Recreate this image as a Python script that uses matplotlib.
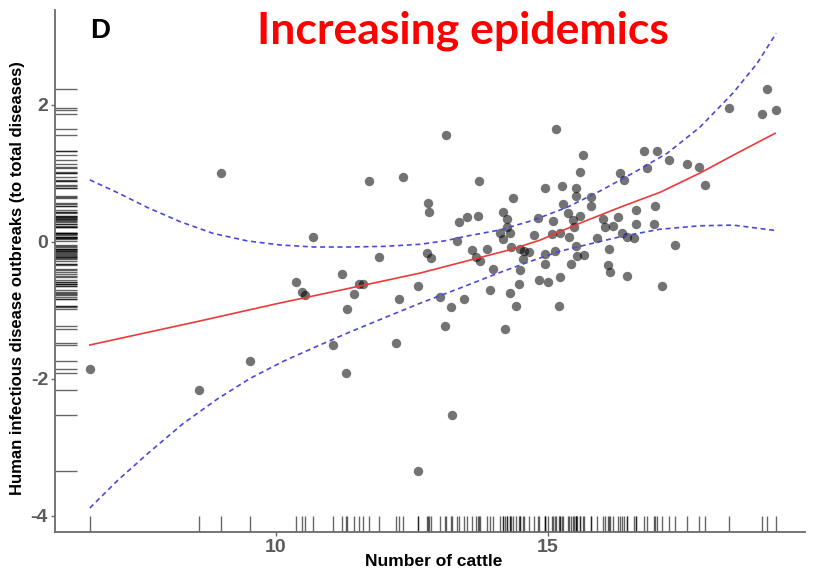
#!/usr/bin/env python3
"""Outbreak share against herd size, with fitted trend and confidence band."""

import matplotlib

matplotlib.use("Agg")
import matplotlib.pyplot as plt

plt.rcParams["axes.unicode_minus"] = False

# one entry per country
cattle = [
    6.58, 8.99, 8.58, 9.52, 10.68, 11.71, 12.33, 12.79, 12.81, 11.89,
    10.37, 10.48, 10.53, 11.21, 11.53, 11.60, 11.43, 11.30, 12.26, 12.61,
    11.05, 12.21, 11.29, 12.78, 12.85, 13.01, 13.22, 13.11, 13.46, 13.24,
    12.61, 13.93, 14.30, 14.41, 14.21, 14.47, 14.83, 15.00, 13.12, 13.73,
    13.36, 13.51, 13.71, 13.33, 14.17, 14.25, 14.25, 14.12, 14.30, 14.17,
    14.36, 13.60, 13.68, 13.75, 13.88, 13.99, 14.32, 14.48, 14.56, 14.65,
    14.54, 14.48, 15.22, 15.20, 14.94, 15.15, 15.26, 15.51, 15.51, 15.28,
    15.64, 15.59, 15.79, 15.79, 14.82, 15.09, 15.37, 15.46, 15.59, 15.48,
    14.74, 15.07, 15.22, 15.39, 15.51, 15.13, 14.94, 15.53, 15.66, 14.94,
    15.42, 16.01, 16.05, 16.19, 16.29, 15.90, 16.12, 16.36, 16.45, 16.58,
    16.62, 16.62, 16.95, 16.97, 16.10, 16.14, 16.45, 16.32, 16.40, 16.82,
    16.76, 17.00, 17.22, 17.55, 17.77, 17.89, 17.33, 17.09, 18.33, 19.02,
    18.93, 19.19,
]
outbreaks = [
    -1.86, 1.00, -2.17, -1.74, 0.07, 0.88, 0.94, 0.56, 0.43, -0.23,
    -0.59, -0.74, -0.78, -0.47, -0.62, -0.62, -0.77, -0.99, -0.84, -0.65,
    -1.51, -1.48, -1.92, -0.17, -0.24, -0.81, -0.96, -1.23, -0.84, -2.53,
    -3.35, -0.71, -0.75, -0.94, -1.28, -0.62, -0.56, -0.59, 1.55, 0.88,
    0.28, 0.36, 0.37, 0.01, 0.43, 0.33, 0.21, 0.12, 0.12, 0.04,
    0.64, -0.12, -0.23, -0.28, -0.11, -0.40, -0.08, -0.11, -0.14, -0.15,
    -0.26, -0.42, -0.52, -0.94, 0.78, 1.64, 0.81, 0.78, 0.66, 0.55,
    1.26, 1.01, 0.65, 0.52, 0.34, 0.30, 0.42, 0.31, 0.37, 0.21,
    0.09, 0.11, 0.12, 0.07, -0.07, -0.14, -0.18, -0.21, -0.20, -0.33,
    -0.33, 0.33, 0.21, 0.23, 0.36, 0.05, -0.11, 0.12, 0.07, 0.05,
    0.26, 0.46, 0.26, 0.52, -0.34, -0.45, -0.50, 1.00, 0.90, 1.07,
    1.32, 1.32, 1.19, 1.13, 1.09, 0.82, -0.05, -0.65, 1.95, 2.23,
    1.86, 1.92,
]

# fitted trend
fit_x = [6.58, 8.60, 10.00, 11.36, 12.65, 13.57, 14.30, 14.85, 15.59, 16.32,
         17.06, 17.79, 18.40, 19.17]
fit_y = [-1.51, -1.16, -0.91, -0.68, -0.46, -0.27, -0.12, 0.02, 0.27, 0.50,
         0.72, 1.00, 1.26, 1.58]

# confidence band
upper_x = [6.58, 7.10, 7.63, 8.24, 8.84, 9.47, 10.07, 10.70, 11.31, 12.00,
           12.65, 13.10, 13.51, 14.12, 14.72, 15.35, 15.96, 16.56, 17.19,
           17.79, 18.40, 18.84, 19.19]
upper_y = [0.90, 0.71, 0.50, 0.29, 0.12, 0.01, -0.05, -0.08, -0.08, -0.07,
           -0.04, 0.01, 0.08, 0.17, 0.31, 0.50, 0.74, 1.00, 1.29,
           1.67, 2.17, 2.60, 3.04]
lower_x = [6.58, 7.10, 7.68, 8.29, 8.92, 9.52, 10.13, 10.75, 11.36, 11.97,
           12.65, 13.38, 14.12, 14.67, 15.22, 15.90, 16.38, 17.06, 17.79,
           18.40, 19.19]
lower_y = [-3.89, -3.48, -3.07, -2.66, -2.30, -2.00, -1.75, -1.53, -1.32,
           -1.12, -0.90, -0.68, -0.45, -0.29, -0.14, -0.01, 0.08, 0.18,
           0.23, 0.24, 0.16]

X_TICKS = [10, 15]
Y_TICKS = [-4, -2, 0, 2]

AXIS_GREY = "#6a6a6a"
LABEL_GREY = "#5a5a5a"
FIT_RED = "#ec3a3a"
BAND_BLUE = "#4a4ad8"


def main():
    fig = plt.figure(figsize=(8.2, 5.76), dpi=100)
    ax = fig.add_axes([55 / 820, 44 / 576, 750 / 820, 522 / 576])

    ax.scatter(cattle, outbreaks, s=46, color="black", alpha=0.55,
               linewidths=0, zorder=2)
    ax.plot(fit_x, fit_y, color=FIT_RED, lw=1.2, zorder=3)
    for bx, by in ((upper_x, upper_y), (lower_x, lower_y)):
        ax.plot(bx, by, color=BAND_BLUE, lw=1.2, ls=(0, (3, 2.2)), zorder=3)

    # rugs along both axes
    ax.vlines(cattle, 0, 0.03, transform=ax.get_xaxis_transform(),
              color="black", alpha=0.6, lw=1.0)
    ax.hlines(outbreaks, 0, 0.03, transform=ax.get_yaxis_transform(),
              color="black", alpha=0.6, lw=1.0)

    ax.set_xlim(5.94, 19.72)
    ax.set_ylim(-4.24, 3.38)
    ax.set_xticks(X_TICKS)
    ax.set_yticks(Y_TICKS)
    ax.tick_params(color=AXIS_GREY, length=3, width=1, labelsize=14,
                   labelcolor=LABEL_GREY, pad=2)
    for lbl in ax.get_xticklabels() + ax.get_yticklabels():
        lbl.set_fontweight("bold")
        lbl.set_family("Liberation Sans")
    ax.spines[["top", "right"]].set_visible(False)
    for side in ("left", "bottom"):
        ax.spines[side].set_color(AXIS_GREY)
        ax.spines[side].set_linewidth(1.3)

    fig.text(434 / 820, 1 - 562 / 576, "Number of cattle", ha="center",
             va="center", fontsize=12.5, fontweight="bold",
             family="Liberation Sans")
    fig.text(18 / 820, 1 - 278 / 576,
             "Human infectious disease outbreaks (to total diseases)",
             ha="center", va="center", rotation=90, fontsize=12,
             fontweight="bold", family="Liberation Sans")
    fig.text(100 / 820, 1 - 31 / 576, "D", ha="center", va="center",
             fontsize=20, fontweight="bold", family="Liberation Sans")
    fig.text(463 / 820, 1 - 31 / 576, "Increasing epidemics", ha="center",
             va="center", fontsize=32, fontweight="bold", color="red",
             family="Lato")

    fig.savefig("out.png", dpi=100, facecolor="white")
    plt.close(fig)


if __name__ == "__main__":
    main()
